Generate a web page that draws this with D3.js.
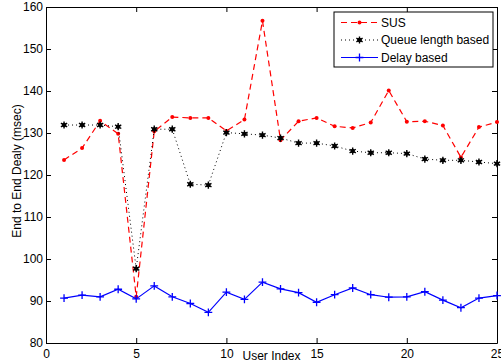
<!DOCTYPE html>
<html>
<head>
<meta charset="utf-8">
<script src="https://cdn.jsdelivr.net/npm/d3@7"></script>
<style>
  body { margin: 0; background: white; }
  text { font-family: "Liberation Sans", Arial, sans-serif; }
</style>
</head>
<body>
<div id="chart"></div>
<script>
const users = d3.range(1, 26);
const susDelay = [123.6, 126.4, 132.9, 129.8, 91.0, 130.4, 133.8, 133.6, 133.6, 130.5,
  133.2, 156.7, 128.3, 132.8, 133.6, 131.6, 131.2, 132.5, 140.1, 132.7,
  132.8, 131.8, 124.2, 131.4, 132.6];
const queueDelay = [131.9, 131.9, 131.9, 131.5, 97.7, 130.9, 130.9, 117.8, 117.6, 130.1,
  129.8, 129.5, 128.8, 127.6, 127.6, 126.9, 125.7, 125.3, 125.3, 125.1,
  123.8, 123.5, 123.5, 123.1, 122.7];
const delayBased = [90.7, 91.4, 91.0, 92.8, 90.5, 93.6, 91.0, 89.4, 87.3, 92.1,
  90.4, 94.5, 92.9, 92.0, 89.7, 91.5, 93.1, 91.5, 90.9, 91.0,
  92.2, 90.2, 88.4, 90.7, 91.3];
const xTicks = [0, 5, 10, 15, 20, 25];
const yTicks = [80, 90, 100, 110, 120, 130, 140, 150, 160];

const width = 501;
const height = 362;
const margin = { top: 7, right: 4, bottom: 19, left: 46 };
const fontSize = 12;

const svg = d3.select("#chart").append("svg")
  .attr("width", width)
  .attr("height", height)
  .style("display", "block");

const x = d3.scaleLinear().domain([0, 25]).range([margin.left, width - margin.right]);
const y = d3.scaleLinear().domain([80, 160]).range([height - margin.bottom, margin.top]);

// axes box with inward ticks
function styleAxis(g) {
  g.selectAll("path.domain").attr("stroke", "#000").attr("stroke-width", 1);
  g.selectAll(".tick line").attr("stroke", "#000");
  g.selectAll(".tick text").attr("font-size", fontSize).attr("fill", "#000")
    .style("font-family", "'Liberation Sans', Arial, sans-serif");
}

svg.append("g")
  .attr("transform", `translate(0,${height - margin.bottom})`)
  .call(d3.axisBottom(x).tickValues(xTicks).tickSize(-5).tickSizeOuter(0).tickPadding(6))
  .call(styleAxis);
svg.append("g")
  .attr("transform", `translate(0,${margin.top})`)
  .call(d3.axisTop(x).tickValues(xTicks).tickSize(-5).tickSizeOuter(0).tickFormat(""))
  .call(styleAxis);
svg.append("g")
  .attr("transform", `translate(${margin.left},0)`)
  .call(d3.axisLeft(y).tickValues(yTicks).tickSize(-5).tickSizeOuter(0).tickPadding(3))
  .call(styleAxis);
svg.append("g")
  .attr("transform", `translate(${width - margin.right},0)`)
  .call(d3.axisRight(y).tickValues(yTicks).tickSize(-5).tickSizeOuter(0).tickFormat(""))
  .call(styleAxis);

// axis labels
svg.append("text")
  .attr("x", (margin.left + width - margin.right) / 2)
  .attr("y", height - 2.5)
  .attr("text-anchor", "middle")
  .attr("font-size", fontSize)
  .text("User Index");

svg.append("text")
  .attr("transform", `translate(21,${(margin.top + height - margin.bottom) / 2 - 4}) rotate(-90)`)
  .attr("text-anchor", "middle")
  .attr("font-size", fontSize)
  .text("End to End Dealy (msec)");

const series = [
  { name: "SUS", values: susDelay, color: "#ff0000", dash: "6,4", width: 1.2, marker: "dot" },
  { name: "Queue length based", values: queueDelay, color: "#000", dash: "1,3", width: 1, marker: "star" },
  { name: "Delay based", values: delayBased, color: "#0000ff", dash: null, width: 1.2, marker: "plus" }
];

const line = d3.line().x((d, i) => x(users[i])).y(d => y(d));

function drawMarker(g, s, cx, cy) {
  if (s.marker === "dot") {
    g.append("circle").attr("cx", cx).attr("cy", cy).attr("r", 2).attr("fill", s.color);
  } else if (s.marker === "star") {
    g.append("path").attr("transform", `translate(${cx},${cy})`)
      .attr("d", d3.symbol(d3.symbolAsterisk, 36)())
      .attr("fill", "none").attr("stroke", s.color).attr("stroke-width", 1.4);
    g.append("circle").attr("cx", cx).attr("cy", cy).attr("r", 2.2).attr("fill", s.color);
  } else {
    g.append("path").attr("transform", `translate(${cx},${cy})`)
      .attr("d", d3.symbol(d3.symbolPlus, 22)())
      .attr("fill", "none").attr("stroke", s.color).attr("stroke-width", 1.3);
  }
}

series.forEach(s => {
  svg.append("path")
    .datum(s.values)
    .attr("fill", "none")
    .attr("stroke", s.color)
    .attr("stroke-width", s.width)
    .attr("stroke-dasharray", s.dash)
    .attr("d", line);
  const g = svg.append("g");
  s.values.forEach((v, i) => drawMarker(g, s, x(users[i]), y(v)));
});

// legend
const legend = svg.append("g");
legend.append("rect")
  .attr("x", 334).attr("y", 12)
  .attr("width", 159).attr("height", 55)
  .attr("fill", "white").attr("stroke", "#000").attr("stroke-width", 1);

series.forEach((s, i) => {
  const ly = 22.5 + i * 17.5;
  legend.append("line")
    .attr("x1", 341).attr("x2", 378)
    .attr("y1", ly).attr("y2", ly)
    .attr("stroke", s.color)
    .attr("stroke-width", s.width)
    .attr("stroke-dasharray", s.dash);
  drawMarker(legend, s, 359.5, ly);
  legend.append("text")
    .attr("x", 381).attr("y", ly)
    .attr("dy", "0.35em")
    .attr("font-size", fontSize)
    .text(s.name);
});
</script>
</body>
</html>
